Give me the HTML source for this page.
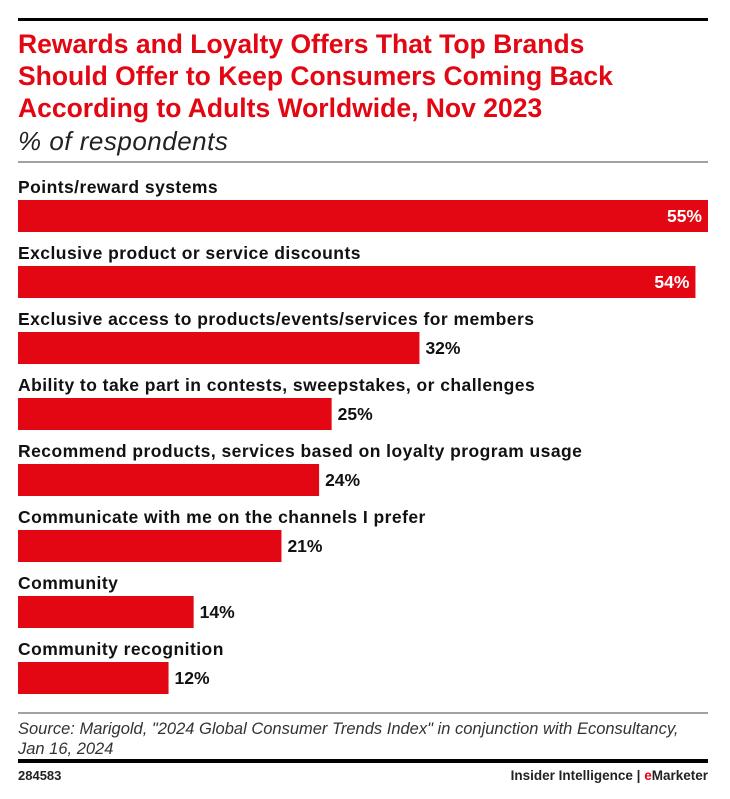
<!DOCTYPE html>
<html><head><meta charset="utf-8"><style>
body{margin:0;background:#fff;width:730px;height:794px;overflow:hidden;font-family:"Liberation Sans",sans-serif;}
</style></head><body>
<svg id="chart" width="730" height="794" xmlns="http://www.w3.org/2000/svg" font-family="Liberation Sans, sans-serif">
<rect x="18" y="18" width="690" height="3" fill="#000"/>
<g fill="#e30613" font-weight="bold" font-size="26.5">
<text x="18" y="53">Rewards and Loyalty Offers That Top Brands</text>
<text x="18" y="85">Should Offer to Keep Consumers Coming Back</text>
<text x="18" y="117">According to Adults Worldwide, Nov 2023</text>
</g>
<text x="18" y="150" font-size="26" letter-spacing="0.5" font-style="italic" fill="#222">% of respondents</text>
<rect x="18" y="161.5" width="690" height="1" fill="#444"/>
<g id="bars"></g>
<rect x="18" y="712.5" width="690" height="1" fill="#444"/>
<g font-size="16.5" font-style="italic" fill="#333">
<text x="18" y="734">Source: Marigold, "2024 Global Consumer Trends Index" in conjunction with Econsultancy,</text>
<text x="18" y="754">Jan 16, 2024</text>
</g>
<rect x="18" y="759" width="690" height="4" fill="#000"/>
<text x="18" y="780" font-size="13" font-weight="bold" fill="#222">284583</text>
<text x="708" y="780" font-size="13.5" font-weight="bold" fill="#222" text-anchor="end">Insider Intelligence | <tspan fill="#e30613">e</tspan>Marketer</text>
</svg>
<script>
const categories = ["Points/reward systems","Exclusive product or service discounts","Exclusive access to products/events/services for members","Ability to take part in contests, sweepstakes, or challenges","Recommend products, services based on loyalty program usage","Communicate with me on the channels I prefer","Community","Community recognition"];
const values = [55,54,32,25,24,21,14,12];
const valueLabels = ["55%","54%","32%","25%","24%","21%","14%","12%"];
const maxValue = 55;

const NS = "http://www.w3.org/2000/svg";
const g = document.getElementById("bars");
const x0 = 18, plotW = 690, rowTop = 173, rowStep = 66, barOff = 27, barH = 32;
function xScale(v){ return v / maxValue * plotW; }
categories.forEach((c, i) => {
  const y = rowTop + i * rowStep;
  const lab = document.createElementNS(NS, "text");
  
  
  lab.setAttribute("x", x0); lab.setAttribute("y", y + 20);
  lab.setAttribute("font-size", "17.5"); lab.setAttribute("letter-spacing", "0.45");
  lab.setAttribute("font-weight", "bold"); lab.setAttribute("fill", "#111");
  lab.textContent = c; g.appendChild(lab);
  const w = xScale(values[i]);
  const r = document.createElementNS(NS, "rect");
  
  
  r.setAttribute("x", x0); r.setAttribute("y", y + barOff);
  r.setAttribute("width", w); r.setAttribute("height", barH); r.setAttribute("fill", "#e30613");
  g.appendChild(r);
  const t = document.createElementNS(NS, "text");
  
  
  const inside = w > 600;
  t.setAttribute("x", inside ? x0 + w - 6 : x0 + w + 6);
  t.setAttribute("y", y + barOff + 22);
  t.setAttribute("text-anchor", inside ? "end" : "start");
  t.setAttribute("font-size", "17.5"); t.setAttribute("font-weight", "bold");
  t.setAttribute("fill", inside ? "#fff" : "#111");
  t.textContent = valueLabels[i]; g.appendChild(t);
});
</script>
</body></html>
